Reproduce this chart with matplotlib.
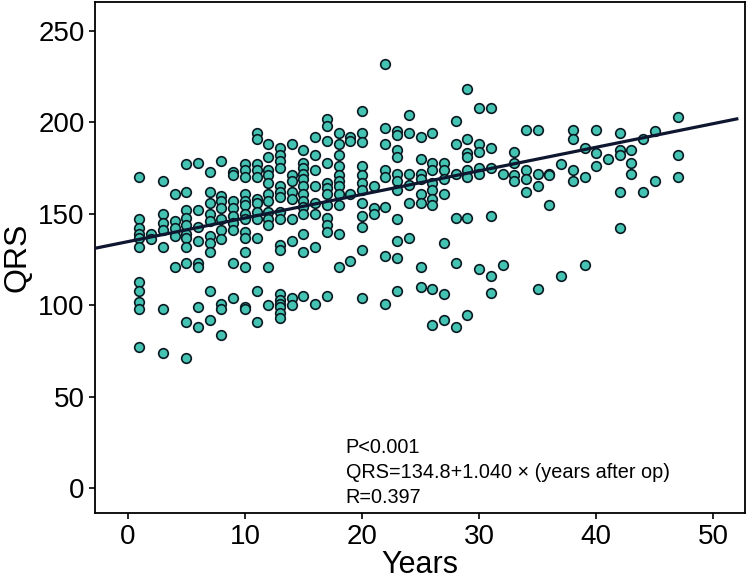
import matplotlib
matplotlib.use("Agg")
from matplotlib import pyplot as plt

# QRS duration (ms) against years after operation, one sub-list per year
years = list(range(1, 48))
qrs = [
    [170, 147, 142, 139, 137, 132, 113, 108, 102, 98, 77],
    [139, 136],
    [168, 150, 145, 141, 132, 98, 74],
    [161, 146, 142, 138, 121],
    [177, 162, 152, 148, 144, 139, 137, 132, 123, 91, 71],
    [178, 152, 143, 135, 123, 121, 99, 88],
    [173, 162, 156, 150, 146, 138, 134, 129, 108, 92],
    [179, 160, 157, 153, 147, 141, 136, 101, 98, 84],
    [173, 171, 157, 153, 149, 145, 141, 123, 104],
    [177, 174, 170, 161, 157, 155, 150, 147, 140, 137, 129, 121, 99, 98],
    [194, 191, 177, 174, 170, 158, 156, 151, 147, 137, 108, 91],
    [188, 181, 174, 171, 167, 161, 157, 151, 147, 144, 121, 100],
    [186, 182, 179, 175, 165, 162, 159, 151, 147, 133, 130, 106, 103, 101, 99, 96, 93],
    [188, 171, 168, 162, 158, 147, 135, 104, 100],
    [185, 178, 175, 172, 169, 165, 161, 157, 154, 150, 139, 129, 105],
    [192, 182, 174, 165, 156, 150, 132, 101],
    [202, 198, 190, 178, 167, 164, 161, 155, 148, 144, 140, 105],
    [194, 188, 182, 176, 171, 168, 165, 161, 155, 139, 121],
    [192, 190, 161, 124],
    [206, 194, 189, 176, 171, 167, 163, 156, 149, 143, 130, 104],
    [165, 153, 150],
    [232, 197, 188, 174, 170, 154, 127, 101],
    [195, 193, 185, 181, 172, 168, 163, 147, 135, 126, 108],
    [204, 194, 172, 166, 156, 137],
    [192, 180, 172, 169, 161, 156, 121, 110],
    [194, 178, 174, 167, 163, 158, 155, 109, 89],
    [178, 174, 169, 161, 134, 106, 92],
    [201, 188, 172, 148, 123, 88],
    [218, 191, 183, 181, 174, 170, 148, 95],
    [208, 188, 184, 175, 172, 120],
    [208, 186, 175, 149, 116, 107],
    [172, 122],
    [184, 178, 171, 168],
    [196, 174, 169, 162],
    [196, 172, 165, 109],
    [172, 171, 155],
    [177, 116],
    [196, 191, 174, 168],
    [186, 170, 122],
    [196, 183, 176],
    [180],
    [194, 185, 182, 162, 142],
    [185, 178, 172],
    [191, 162],
    [195, 168],
    [],
    [203, 182, 170],
]

# regression line as drawn in the figure
fit_intercept = 134.8
fit_slope = 1.29
fit_x = [-2.8, 52.0]

stats_text = ["P<0.001", "QRS=134.8+1.040 \u00d7 (years after op)", "R=0.397"]

plt.rcParams['font.family'] = ['Liberation Sans', 'DejaVu Sans']

fig = plt.figure(figsize=(7.52, 5.84), dpi=100)
ax = fig.add_axes([0.1263, 0.1224, 0.8644, 0.874])

xs = []
ys = []
for yr, vals in zip(years, qrs):
    for v in vals:
        xs.append(yr)
        ys.append(v)

ax.scatter(xs, ys, s=48, facecolor="#44c2b2", edgecolor="#0b1a22", linewidth=1.2, zorder=2)

fit_y = [fit_intercept + fit_slope * x for x in fit_x]
ax.plot(fit_x, fit_y, color="#0e1630", linewidth=2.3, zorder=3)

ax.set_xlim(-2.8, 52.7)
ax.set_ylim(-13.2, 265.7)
ax.set_xticks([0, 10, 20, 30, 40, 50])
ax.set_yticks([0, 50, 100, 150, 200, 250])
ax.tick_params(axis="both", labelsize=20, length=4.5, width=1.2, direction="out", pad=3)
ax.tick_params(axis="x", pad=4)
for sp in ax.spines.values():
    sp.set_linewidth(1.3)
    sp.set_color("black")

ax.set_xlabel("Years", fontsize=22, labelpad=0)
ax.set_ylabel("QRS", fontsize=23, labelpad=4)

for i, line in enumerate(stats_text):
    ax.text(18.6, 22.6 - i * 13.7, line, fontsize=14.3, va="center", ha="left")

fig.savefig("out.png", dpi=100)
